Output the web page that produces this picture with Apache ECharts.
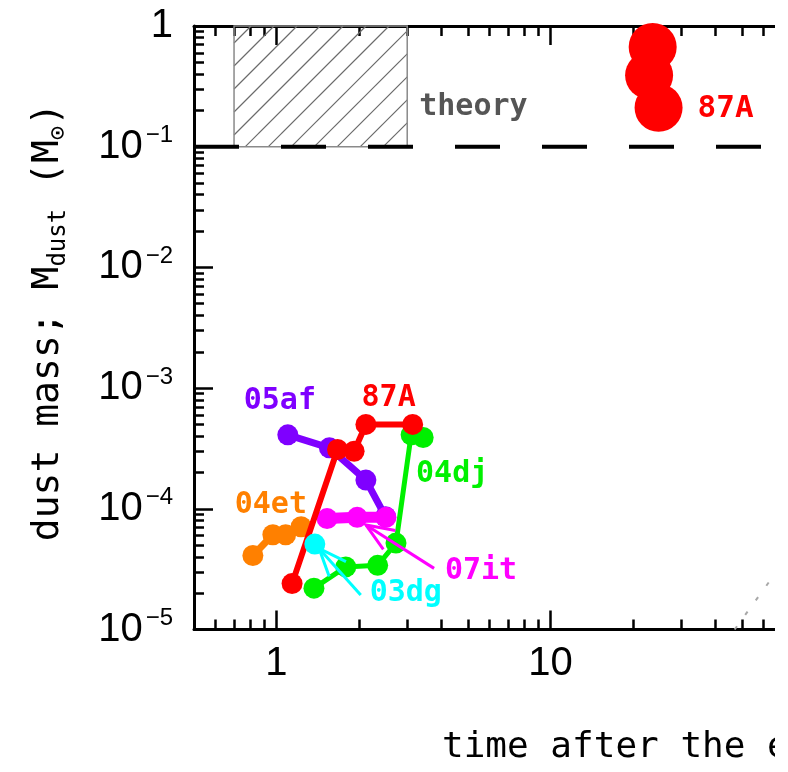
<!DOCTYPE html>
<html>
<head>
<meta charset="utf-8">
<script src="https://cdn.jsdelivr.net/npm/echarts@6/dist/echarts.min.js"></script>
<style>
  html, body { margin: 0; padding: 0; background: #fff; }
  #frame { width: 775px; height: 772px; overflow: hidden; }
  #chart { width: 900px; height: 772px; }
</style>
</head>
<body>
<div id="frame"><div id="chart"></div></div>
<script>
// Dust mass (solar masses) against time after the explosion (years)
const sn05af = [[1.10, 4.1e-4], [1.56, 3.2e-4], [2.12, 1.73e-4], [2.50, 8.6e-5]];
const sn87A = [[1.14, 2.4e-5], [1.67, 3.1e-4], [1.92, 3.0e-4], [2.12, 5.0e-4], [3.14, 5.0e-4]];
const sn04dj = [[1.37, 2.2e-5], [1.79, 3.3e-5], [2.34, 3.4e-5], [2.73, 5.2e-5], [3.10, 4.1e-4], [3.43, 3.9e-4]];
const sn04et = [[0.82, 4.1e-5], [0.97, 6.1e-5], [1.08, 6.1e-5], [1.23, 7.1e-5]];
const sn07it = [[1.53, 8.3e-5], [1.97, 8.5e-5], [2.51, 8.5e-5]];
const sn03dg = [[1.38, 5.1e-5]];
const sn87ALate = [[23.6, 0.67], [22.9, 0.39], [24.8, 0.21]];

// theoretical expectation: time span and mass span
const theoryTime = [0.7, 3];
const theoryMass = [0.1, 1];
const theoryFloor = 0.1;

// pointer arrows: [from time, from mass, to time, to mass]
const arrow03dg = [2.03, 1.93e-5, 1.43, 4.7e-5];
const arrow07it = [3.76, 3.21e-5, 2.12, 7.35e-5];

// faint model curve entering at the lower right
const modelCurve = [[47, 1.0e-5], [66, 2.9e-5]];

// axes
const xRange = [0.5, 100];
const yRange = [1e-5, 1];
const xLabelValues = [1, 10, 100];
const yLabelValues = [1e-5, 1e-4, 1e-3, 1e-2, 1e-1, 1];

const C = {
  red: '#ff0000', purple: '#7f00ff', green: '#00f000', orange: '#ff8000',
  magenta: '#ff00ff', cyan: '#00ffff', black: '#000000', grey: '#555555'
};
const labelFont = 'DejaVu Sans Mono';
const tickFont = 'Liberation Sans';

// minor tick positions at 2..9 times each power of ten inside the range
function minorTicks(lo, hi) {
  const out = [];
  for (let e = Math.floor(Math.log10(lo)); e <= Math.ceil(Math.log10(hi)); e++) {
    for (let m = 2; m <= 9; m++) {
      const v = m * Math.pow(10, e);
      if (v >= lo * 0.999 && v <= hi * 1.001) out.push(v);
    }
  }
  return out;
}

const tickLine = { color: C.black, width: 2.5 };
const axisLine = { color: C.black, width: 3 };

function axis(kind, position, major, showLabels) {
  const range = kind === 'x' ? xRange : yRange;
  const majors = kind === 'x' ? xLabelValues : yLabelValues;
  const a = {
    type: 'log', logBase: 10, min: range[0], max: range[1], position: position,
    axisLine: { show: major, onZero: false, lineStyle: axisLine },
    axisTick: {
      show: true, inside: true, length: major ? 19 : 10, lineStyle: tickLine,
      customValues: major ? majors : minorTicks(range[0], range[1])
    },
    axisLabel: { show: false },
    splitLine: { show: false },
    minorTick: { show: false },
    minorSplitLine: { show: false }
  };
  if (showLabels) {
    if (kind === 'x') {
      a.axisLabel = {
        show: true, customValues: majors, margin: 14,
        fontFamily: tickFont, fontSize: 40, color: C.black,
        formatter: v => String(Math.round(v))
      };
    } else {
      a.axisLabel = {
        show: true, customValues: majors, margin: 21,
        fontFamily: tickFont, fontSize: 40, color: C.black,
        formatter: v => {
          const e = Math.round(Math.log10(v));
          return e === 0 ? '{b|1}' : '{b|10}{s|\u2212' + (-e) + '}';
        },
        rich: {
          b: { fontFamily: tickFont, fontSize: 40, lineHeight: 46, color: C.black },
          s: { fontFamily: tickFont, fontSize: 24, lineHeight: 24, verticalAlign: 'top',
               padding: [0, 0, 0, 3], color: C.black }
        }
      };
    }
  }
  return a;
}

function withLabel(data, index, text, color, offset, size) {
  return data.map((p, i) => i === index ? {
    value: p,
    label: {
      show: true, position: 'inside', offset: offset, formatter: text,
      color: color, fontFamily: labelFont, fontWeight: 'bold', fontSize: size || 30,
      textBorderWidth: 0, align: 'center', verticalAlign: 'middle'
    }
  } : p);
}

function track(name, data, color, lineWidth, z) {
  return {
    name: name, type: 'line', data: data, z: z,
    symbol: 'circle', symbolSize: 21, showSymbol: true,
    itemStyle: { color: color, opacity: 1 },
    lineStyle: { color: color, width: lineWidth },
    emphasis: { disabled: true }, animation: false
  };
}

function arrowSeries(arrow, color) {
  return {
    type: 'custom', z: 20, clip: false, animation: false,
    encode: { x: [0, 2], y: [1, 3] },
    data: [arrow],
    renderItem: (params, api) => {
      const a = api.coord([api.value(0), api.value(1)]);
      const b = api.coord([api.value(2), api.value(3)]);
      const ang = Math.atan2(a[1] - b[1], a[0] - b[0]);
      const L = 30, spread = 22 * Math.PI / 180;
      const arm = s => [b[0] + L * Math.cos(ang + s), b[1] + L * Math.sin(ang + s)];
      const style = { stroke: color, lineWidth: 3, fill: null };
      return {
        type: 'group', children: [
          { type: 'line', shape: { x1: a[0], y1: a[1], x2: b[0], y2: b[1] }, style: style },
          { type: 'polyline', shape: { points: [arm(spread), b, arm(-spread)] }, style: style }
        ]
      };
    }
  };
}

// hatched box for the theoretical range, with its caption
const theoryBox = {
  type: 'custom', z: 3, clip: false, animation: false,
  data: [[theoryTime[0], theoryMass[0]]],
  renderItem: (params, api) => {
    const p0 = api.coord([theoryTime[0], theoryMass[1]]);
    const p1 = api.coord([theoryTime[1], theoryMass[0]]);
    const x0 = p0[0], y0 = p0[1], x1 = p1[0], y1 = p1[1];
    const gap = 23;
    const children = [];
    for (let c = x0 + y0 + 17 - gap * 10; c < x1 + y1; c += gap) {
      const lo = Math.max(x0, c - y1), hi = Math.min(x1, c - y0);
      if (hi > lo + 0.5) {
        children.push({
          type: 'line', shape: { x1: lo, y1: c - lo, x2: hi, y2: c - hi },
          style: { stroke: '#6a6a6a', lineWidth: 1.2 }
        });
      }
    }
    children.push({
      type: 'rect', shape: { x: x0, y: y0, width: x1 - x0, height: y1 - y0 },
      style: { fill: null, stroke: '#8a8a8a', lineWidth: 1.5 }
    });
    children.push({
      type: 'text', x: x1 + 12, y: y1 - 39,
      style: { text: 'theory', fill: C.grey, fontFamily: labelFont, fontWeight: 'bold',
               fontSize: 30, align: 'left', verticalAlign: 'middle' }
    });
    return { type: 'group', children: children };
  }
};

const chart = echarts.init(document.getElementById('chart'), null, { renderer: 'canvas' });
chart.setOption({
  animation: false,
  backgroundColor: '#ffffff',
  grid: { left: 194, top: 26, width: 630.5, height: 603.5, containLabel: false },
  xAxis: [
    axis('x', 'bottom', true, true),
    axis('x', 'bottom', false, false),
    axis('x', 'top', true, false),
    axis('x', 'top', false, false)
  ],
  yAxis: [
    axis('y', 'left', true, true),
    axis('y', 'left', false, false),
    axis('y', 'right', true, false),
    axis('y', 'right', false, false)
  ],
  graphic: [
    {
      type: 'text', x: 48, y: 322, rotation: Math.PI / 2,
      style: {
        text: '{m|dust mass; M}{s|dust}{m| (M}{s|\u2299}{m|)}',
        align: 'center', verticalAlign: 'middle',
        rich: {
          m: { fontFamily: labelFont, fontSize: 38, lineHeight: 46, fill: C.black },
          s: { fontFamily: labelFont, fontSize: 24, lineHeight: 24, verticalAlign: 'bottom', fill: C.black }
        }
      }
    },
    {
      type: 'text', x: 442, y: 748,
      style: {
        text: 'time after the explosion (yr)', fill: C.black,
        fontFamily: labelFont, fontSize: 36, align: 'left', verticalAlign: 'middle'
      }
    }
  ],
  series: [
    theoryBox,
    {
      type: 'line', z: 4, data: [[xRange[0], theoryFloor], [xRange[1], theoryFloor]],
      symbol: 'none', lineStyle: { color: C.black, width: 4, type: [45, 42] },
      emphasis: { disabled: true }, animation: false
    },
    {
      type: 'line', z: 4, data: modelCurve, symbol: 'none',
      lineStyle: { color: '#a8a8a8', width: 2, type: [4, 14] },
      emphasis: { disabled: true }, animation: false
    },
    track('SN 2005af', withLabel(sn05af, 0, '05af', C.purple, [-8, -34]), C.purple, 7, 10),
    track('SN 2004dj', withLabel(sn04dj, 5, '04dj', C.green, [29, 37]), C.green, 5, 11),
    track('SN 2007it', withLabel(sn07it, 2, '07it', C.magenta, [95, 54]), C.magenta, 11, 12),
    track('SN 2004et', withLabel(sn04et, 1, '04et', C.orange, [-2, -30]), C.orange, 7, 13),
    track('SN 1987A', withLabel(sn87A, 4, '87A', C.red, [-24, -26]), C.red, 6, 14),
    track('SN 2003gd', withLabel(sn03dg, 0, '03dg', C.cyan, [91, 49]), C.cyan, 5, 15),
    {
      name: 'SN 1987A (late)', type: 'scatter', z: 14, symbolSize: 48,
      data: withLabel(sn87ALate, 2, '87A', C.red, [67, 1], 31),
      itemStyle: { color: C.red, opacity: 1 }, emphasis: { disabled: true }, animation: false
    },
    arrowSeries(arrow03dg, C.cyan),
    arrowSeries(arrow07it, C.magenta)
  ]
});
</script>
</body>
</html>
